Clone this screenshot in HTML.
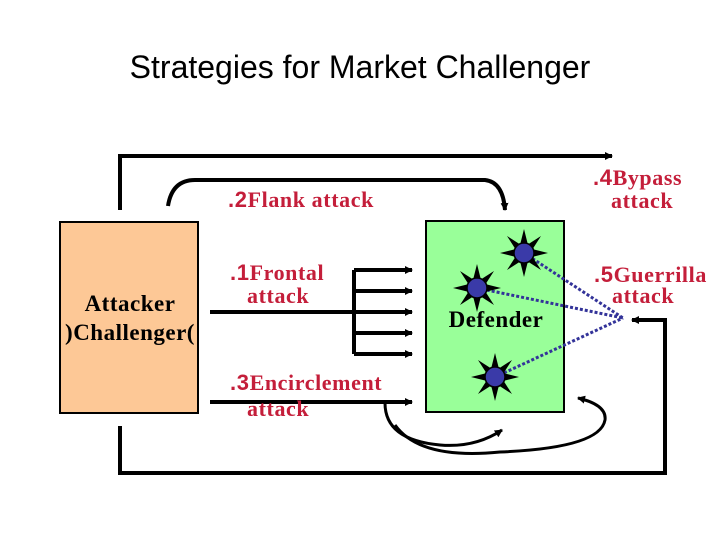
<!DOCTYPE html>
<html><head><style>
body{margin:0;background:#fff;}
svg{display:block}
.l{font-family:"Liberation Serif",serif;font-weight:bold;font-size:22px;letter-spacing:0.6px;fill:#c41e3a}
.n{font-family:"Liberation Sans",sans-serif;font-weight:bold}
.b{font-family:"Liberation Serif",serif;font-weight:bold;font-size:23px;letter-spacing:0.5px;fill:#000}
</style></head><body>
<svg width="720" height="540" viewBox="0 0 720 540">
<defs>
<marker id="a" markerWidth="8" markerHeight="8" refX="7" refY="4" orient="auto" markerUnits="userSpaceOnUse"><path d="M0,0 L8,4 L0,8 Z" fill="#000"/></marker>
<g id="star">
<g fill="#000">
<polygon points="0,-24 4,-8 -4,-8"/><polygon points="0,24 4,8 -4,8"/>
<polygon points="-24,0 -8,4 -8,-4"/><polygon points="24,0 8,4 8,-4"/>
<polygon points="-17,-17 -3,-8 -8,-3"/><polygon points="17,-17 3,-8 8,-3"/>
<polygon points="-17,17 -3,8 -8,3"/><polygon points="17,17 3,8 8,3"/>
</g>
<circle r="10" fill="#3a3aa8" stroke="#000" stroke-width="1.5"/>
</g>
</defs>
<text x="360" y="78" text-anchor="middle" font-family="Liberation Sans,sans-serif" font-size="32">Strategies for Market Challenger</text>
<g fill="none" stroke="#000" stroke-width="4">
<path d="M120,210 V156 H612" marker-end="url(#a)"/>
<path d="M120,426 V473 H665 V320 H632" marker-end="url(#a)"/>
<path d="M168,206 Q172,180 195,180 H485 Q503,182 505,210" marker-end="url(#a)"/>
<path d="M210,312 H412" marker-end="url(#a)"/>
<path d="M354,270 V354"/>
<path d="M354,270 H412" marker-end="url(#a)"/>
<path d="M354,291 H412" marker-end="url(#a)"/>
<path d="M354,333 H412" marker-end="url(#a)"/>
<path d="M354,354 H412" marker-end="url(#a)"/>
<path d="M210,402 H412" marker-end="url(#a)"/>
<path d="M385,403 Q385,440 440,445 Q475,448 502,430" stroke-width="3" marker-end="url(#a)"/>
<path d="M395,425 Q420,460 500,452 Q600,448 605,420 Q607,405 578,398" stroke-width="3" marker-end="url(#a)"/>
</g>
<rect x="60" y="222" width="138" height="191" fill="#fdc896" stroke="#000" stroke-width="2"/>
<text x="130" y="311" text-anchor="middle" class="b">Attacker</text>
<text x="130" y="340" text-anchor="middle" class="b">)Challenger(</text>
<rect x="426" y="221" width="138" height="191" fill="#99ff99" stroke="#000" stroke-width="2"/>
<g stroke="#333399" stroke-width="3" stroke-dasharray="3,2">
<line x1="524" y1="253" x2="623" y2="318"/>
<line x1="477" y1="288" x2="623" y2="318"/>
<line x1="495" y1="377" x2="623" y2="318"/>
</g>
<use href="#star" x="524" y="253"/>
<use href="#star" x="477" y="288"/>
<use href="#star" x="495" y="377"/>
<text x="496" y="327" text-anchor="middle" class="b">Defender</text>
<text x="228" y="207" class="l"><tspan class="n">.2</tspan>Flank attack</text>
<text x="230" y="280" class="l"><tspan class="n">.1</tspan>Frontal</text>
<text x="247" y="303" class="l">attack</text>
<text x="230" y="390" class="l"><tspan class="n">.3</tspan>Encirclement</text>
<text x="247" y="416" class="l">attack</text>
<text x="593" y="185" class="l"><tspan class="n">.4</tspan>Bypass</text>
<text x="611" y="208" class="l">attack</text>
<text x="594" y="282" class="l"><tspan class="n">.5</tspan>Guerrilla</text>
<text x="612" y="303" class="l">attack</text>
</svg>
</body></html>
